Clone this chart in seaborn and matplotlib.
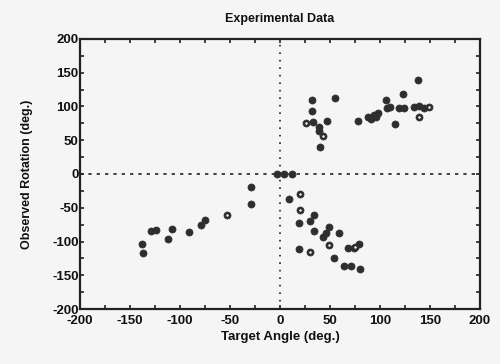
import matplotlib
matplotlib.use("Agg")
import matplotlib.pyplot as plt
import seaborn as sns
import pandas as pd
import numpy as np
from matplotlib.ticker import MultipleLocator

# Filled markers
filled_x = [-29, -29, -75, -79, -91, -108, -112, -124, -129, -138, -137,
            -3, 4, 12,
            9, 19, 30, 34, 34, 43, 46, 49, 59, 19, 54, 68, 74, 79, 64, 71, 80,
            32, 32, 55, 33, 39, 47, 40, 39, 78, 91, 94, 98, 88, 96, 106, 110,
            115, 119, 123, 124, 107, 134, 139, 138, 144]
filled_y = [-20, -45, -68, -75, -86, -82, -97, -83, -85, -104, -117,
            0, 0, 0,
            -37, -73, -70, -60, -84, -94, -88, -79, -87, -111, -125, -110, -109, -104, -137, -137, -140,
            110, 94, 113, 77, 70, 79, 40, 63, 79, 81, 87, 91, 85, 84, 109, 99,
            74, 97, 118, 97, 97, 99, 101, 139, 97]
# Ring markers (filled with a light centre)
ring_x = [-53, 20, 20, 49, 30, 75, 26, 43, 139, 149]
ring_y = [-60, -30, -54, -105, -115, -108, 75, 56, 85, 99]

title = "Experimental Data"
xlabel = "Target Angle (deg.)"
ylabel = "Observed Rotation (deg.)"

sns.set_style("ticks")
plt.rcParams['font.family'] = ['Liberation Sans', 'DejaVu Sans']
plt.rcParams['axes.unicode_minus'] = False

fig = plt.figure(figsize=(5, 3.64), dpi=100, facecolor='#f5f5f5')
ax = fig.add_axes([0.16, 0.151, 0.80, 0.742])
ax.set_facecolor('#f5f5f5')

df_f = pd.DataFrame({"x": filled_x, "y": filled_y})
df_r = pd.DataFrame({"x": ring_x, "y": ring_y})

ax.axhline(0, color='#222222', lw=1.2, ls=(0, (2, 3)), zorder=1)
ax.axvline(0, color='#222222', lw=1.2, ls=(0, (1, 3.5)), zorder=1)

sns.scatterplot(data=df_f, x="x", y="y", ax=ax, s=26, color='#2e2e2e',
                edgecolor='#2e2e2e', linewidth=0.5, zorder=3)
sns.scatterplot(data=df_r, x="x", y="y", ax=ax, s=26, color='#2e2e2e',
                edgecolor='#2e2e2e', linewidth=0.5, zorder=3)
sns.scatterplot(data=df_r, x="x", y="y", ax=ax, s=3, color='white',
                edgecolor='white', linewidth=0, zorder=4)

ax.set_xlim(-200, 200)
ax.set_ylim(-200, 200)
ax.xaxis.set_major_locator(MultipleLocator(50))
ax.yaxis.set_major_locator(MultipleLocator(50))
ax.xaxis.set_minor_locator(MultipleLocator(25))
ax.yaxis.set_minor_locator(MultipleLocator(25))
ax.tick_params(which='both', direction='in', top=True, right=True,
               length=3, width=1.2, color='#222222')
ax.tick_params(axis='x', pad=4)
ax.tick_params(axis='y', pad=1)
ax.tick_params(labelsize=9.5, labelcolor='#111111')
for lab in ax.get_xticklabels() + ax.get_yticklabels():
    lab.set_fontweight('bold')
for sp in ax.spines.values():
    sp.set_linewidth(1.6)
    sp.set_color('#222222')

ax.set_title(title, fontsize=9, fontweight='bold', pad=12, color='#111111')
ax.set_xlabel(xlabel, fontsize=9.5, fontweight='bold', labelpad=3, color='#111111')
ax.set_ylabel(ylabel, fontsize=9, fontweight='bold', labelpad=14, color='#111111')

fig.savefig("out.png", dpi=100, facecolor=fig.get_facecolor())
